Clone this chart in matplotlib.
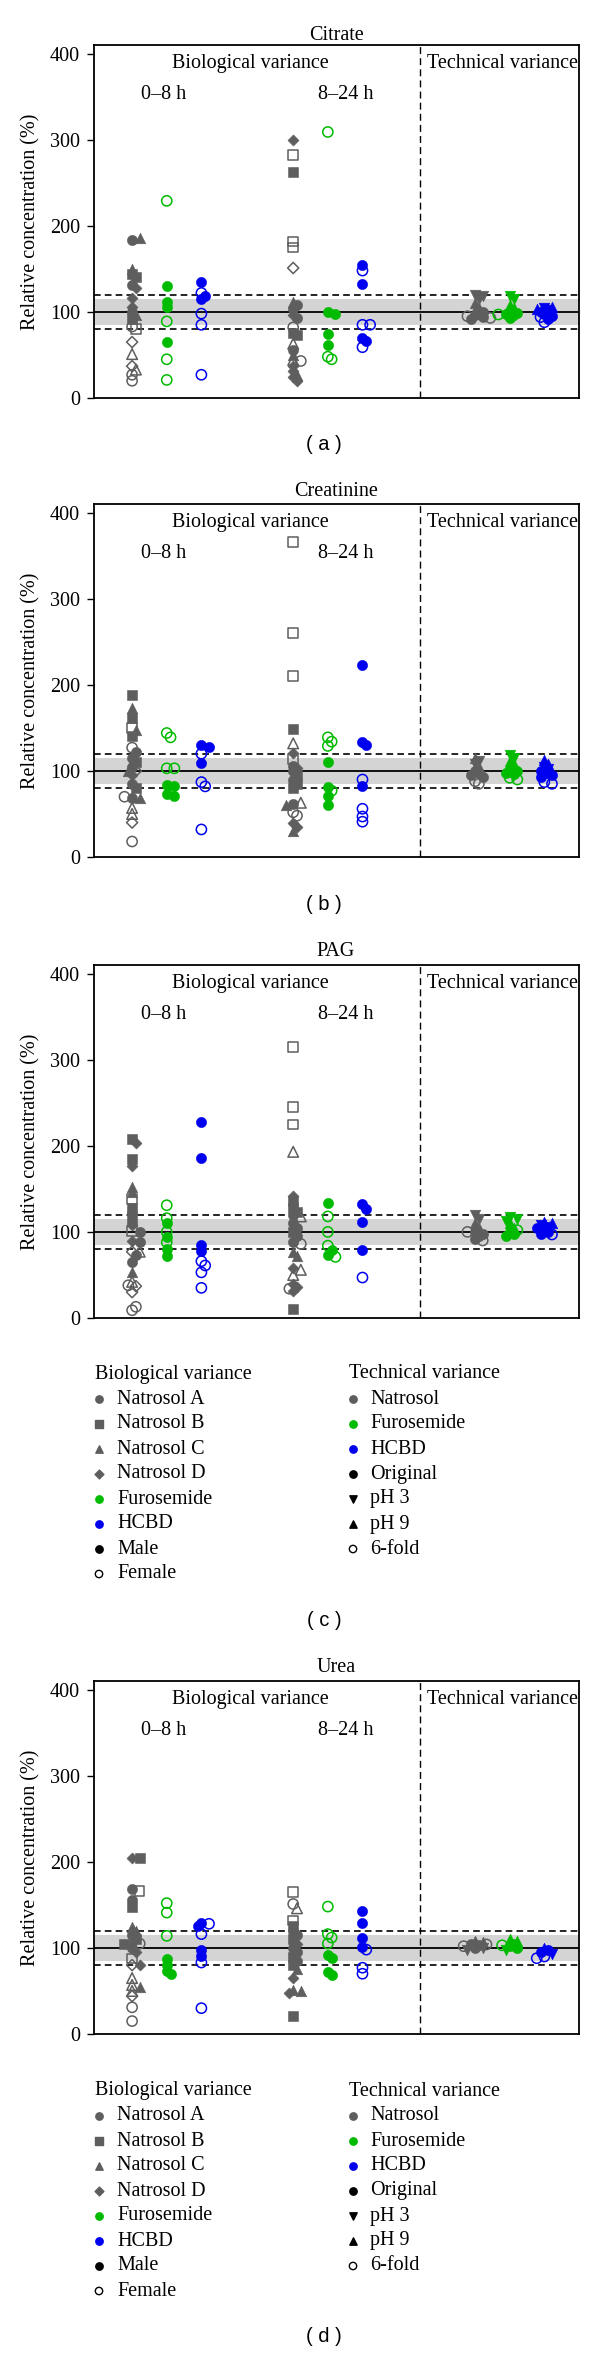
import numpy as np
import matplotlib.pyplot as plt

plt.rcParams['font.family'] = ['Liberation Serif', 'DejaVu Serif']

GRAY = '#5e5e5e'
GREEN = '#00bb00'
BLUE = '#0000f0'
BAND = '#d4d4d4'

# kind codes: A-D Natrosol A-D male (filled), a-d female (open),
# M male / F female for the drug groups,
# O original, 3 pH 3, 9 pH 9, 6 6-fold for technical variance

# ---- Citrate ----
cit_08_nat = [184, 186, 150, 144, 140, 131, 128, 116, 106, 100, 96, 92, 83, 80, 65, 51, 37, 33, 27, 20]
cit_08_nat_kind = "ACCBBADDDACBabdcdcaa"
cit_08_fur = [229, 130, 112, 106, 89, 65, 45, 21]
cit_08_fur_kind = "FMMMFMFF"
cit_08_hcbd = [135, 122, 118, 115, 98, 85, 27]
cit_08_hcbd_kind = "MFMMFFF"
cit_24_nat = [300, 282, 262, 182, 175, 151, 112, 108, 103, 96, 93, 82, 76, 73, 63, 56, 50, 44, 43, 37, 31, 27, 24, 20]
cit_24_nat_kind = "DbBbbdCAADAaBBcACcaDDCDD"
cit_24_fur = [309, 100, 98, 74, 62, 48, 45]
cit_24_fur_kind = "FMMMMFF"
cit_24_hcbd = [155, 148, 132, 85, 85, 70, 66, 59]
cit_24_hcbd_kind = "MFMFFMMF"
cit_t_nat = [120, 118, 115, 110, 105, 102, 100, 96, 94, 92, 95, 93]
cit_t_nat_kind = "333999OOOO66"
cit_t_fur = [118, 115, 108, 105, 100, 99, 97, 93, 97, 96]
cit_t_fur_kind = "3399OOOO66"
cit_t_hcbd = [105, 102, 106, 103, 100, 97, 95, 92, 94, 88]
cit_t_hcbd_kind = "3399OOOO66"

# ---- Creatinine ----
cre_08_nat = [188, 173, 162, 150, 147, 140, 127, 122, 115, 110, 105, 100, 100, 95, 85, 80, 68, 68, 70, 57, 50, 40, 18]
cre_08_nat_kind = "BCBbCBaAABAdCDABACaccda"
cre_08_fur = [144, 139, 103, 103, 84, 83, 73, 71]
cre_08_fur_kind = "FFFFMMMM"
cre_08_hcbd = [130, 128, 120, 109, 87, 82, 32]
cre_08_hcbd_kind = "MMFMFFF"
cre_24_nat = [366, 260, 210, 149, 132, 121, 114, 106, 103, 100, 95, 90, 85, 80, 62, 63, 60, 52, 48, 40, 35, 30]
cre_24_nat_kind = "bbbBcDbADABABBAcCaaDDC"
cre_24_fur = [139, 134, 129, 110, 81, 77, 71, 60]
cre_24_fur_kind = "FFFMMFMM"
cre_24_hcbd = [223, 134, 130, 90, 82, 56, 47, 41]
cre_24_hcbd_kind = "MMMFMFFF"
cre_t_nat = [115, 112, 108, 105, 100, 97, 95, 93, 88, 85]
cre_t_nat_kind = "9339OOOO66"
cre_t_fur = [118, 115, 112, 108, 102, 100, 98, 96, 92, 90]
cre_t_fur_kind = "3399OOOO66"
cre_t_hcbd = [113, 108, 105, 102, 100, 97, 95, 93, 87, 85]
cre_t_hcbd_kind = "9933OOOO66"

# ---- PAG ----
pag_08_nat = [208, 203, 185, 177, 152, 146, 138, 128, 122, 115, 108, 101, 100, 90, 88, 77, 77, 73, 65, 53, 42, 37, 38, 30, 9, 13]
pag_08_nat_kind = "BDBDCCbBABDbADAdcAACcdadaa"
pag_08_fur = [131, 116, 110, 100, 94, 88, 80, 72]
pag_08_fur_kind = "FFMFMFMM"
pag_08_hcbd = [228, 186, 85, 78, 66, 61, 53, 35]
pag_08_hcbd_kind = "MMMMFFFF"
pag_24_nat = [315, 245, 225, 193, 142, 136, 128, 123, 120, 118, 110, 105, 100, 95, 88, 86, 77, 72, 58, 56, 50, 40, 36, 34, 31, 11]
pag_24_nat_kind = "bbbcDBBBAcAABAAaCCDccDDaDB"
pag_24_fur = [133, 118, 100, 84, 79, 73, 71]
pag_24_fur_kind = "MFFFMMF"
pag_24_hcbd = [132, 127, 112, 79, 47]
pag_24_hcbd_kind = "MMMMF"
pag_t_nat = [120, 115, 110, 105, 100, 98, 95, 92, 100, 90]
pag_t_nat_kind = "3399OOOO66"
pag_t_fur = [117, 115, 113, 110, 105, 100, 97, 95, 102]
pag_t_fur_kind = "33399OOO6"
pag_t_hcbd = [112, 110, 108, 106, 105, 103, 100, 98, 97]
pag_t_hcbd_kind = "9933OOOO6"

# ---- Urea ----
urea_08_nat = [204, 204, 168, 166, 156, 148, 124, 120, 115, 110, 106, 105, 104, 100, 95, 88, 80, 80, 65, 57, 55, 50, 44, 31, 15]
urea_08_nat_kind = "DBAbABCCABDaBADbdDccCcdaa"
urea_08_fur = [152, 141, 114, 87, 80, 73, 70]
urea_08_fur_kind = "FFFMMMM"
urea_08_hcbd = [129, 128, 126, 116, 98, 91, 83, 30]
urea_08_hcbd_kind = "MFMFMMFF"
urea_24_nat = [165, 151, 146, 132, 126, 120, 115, 110, 105, 100, 95, 90, 85, 80, 75, 65, 51, 50, 48, 21]
urea_24_nat_kind = "bacbBAABDAABABCDCCDB"
urea_24_fur = [148, 116, 112, 105, 92, 88, 72, 69]
urea_24_fur_kind = "FFFFMMMM"
urea_24_hcbd = [143, 129, 112, 101, 98, 77, 70]
urea_24_hcbd_kind = "MMMMFFF"
urea_t_nat = [108, 107, 105, 103, 100, 100, 98, 102, 104]
urea_t_nat_kind = "99OOO3366"
urea_t_fur = [110, 108, 105, 102, 100, 98, 103]
urea_t_fur_kind = "99OOO36"
urea_t_hcbd = [100, 97, 95, 93, 90, 88]
urea_t_hcbd_kind = "9OO366"

bio_legend = ['Natrosol A', 'Natrosol B', 'Natrosol C', 'Natrosol D', 'Furosemide', 'HCBD', 'Male', 'Female']
tech_legend = ['Natrosol', 'Furosemide', 'HCBD', 'Original', 'pH 3', 'pH 9', '6-fold']

panels = [
    ('Citrate', '( a )', [(cit_08_nat, cit_08_nat_kind), (cit_08_fur, cit_08_fur_kind), (cit_08_hcbd, cit_08_hcbd_kind),
                          (cit_24_nat, cit_24_nat_kind), (cit_24_fur, cit_24_fur_kind), (cit_24_hcbd, cit_24_hcbd_kind),
                          (cit_t_nat, cit_t_nat_kind), (cit_t_fur, cit_t_fur_kind), (cit_t_hcbd, cit_t_hcbd_kind)]),
    ('Creatinine', '( b )', [(cre_08_nat, cre_08_nat_kind), (cre_08_fur, cre_08_fur_kind), (cre_08_hcbd, cre_08_hcbd_kind),
                             (cre_24_nat, cre_24_nat_kind), (cre_24_fur, cre_24_fur_kind), (cre_24_hcbd, cre_24_hcbd_kind),
                             (cre_t_nat, cre_t_nat_kind), (cre_t_fur, cre_t_fur_kind), (cre_t_hcbd, cre_t_hcbd_kind)]),
    ('PAG', '( c )', [(pag_08_nat, pag_08_nat_kind), (pag_08_fur, pag_08_fur_kind), (pag_08_hcbd, pag_08_hcbd_kind),
                      (pag_24_nat, pag_24_nat_kind), (pag_24_fur, pag_24_fur_kind), (pag_24_hcbd, pag_24_hcbd_kind),
                      (pag_t_nat, pag_t_nat_kind), (pag_t_fur, pag_t_fur_kind), (pag_t_hcbd, pag_t_hcbd_kind)]),
    ('Urea', '( d )', [(urea_08_nat, urea_08_nat_kind), (urea_08_fur, urea_08_fur_kind), (urea_08_hcbd, urea_08_hcbd_kind),
                       (urea_24_nat, urea_24_nat_kind), (urea_24_fur, urea_24_fur_kind), (urea_24_hcbd, urea_24_hcbd_kind),
                       (urea_t_nat, urea_t_nat_kind), (urea_t_fur, urea_t_fur_kind), (urea_t_hcbd, urea_t_hcbd_kind)]),
]

centers = [1.1, 2.1, 3.1, 5.75, 6.75, 7.75, 11.0, 12.0, 13.0]
colors = [GRAY, GREEN, BLUE] * 3

shape = {'A': 'o', 'a': 'o', 'B': 's', 'b': 's', 'C': '^', 'c': '^', 'D': 'D', 'd': 'D',
         'M': 'o', 'F': 'o', 'O': 'o', '6': 'o', '3': 'v', '9': '^'}
hollow = set('abcdF6')
size = {'o': 54, 's': 46, '^': 58, 'v': 58, 'D': 32}

XMAX, YMAX = 14.0, 410.0
W_PX, H_PX = 485, 353
px_x = W_PX / XMAX
px_y = H_PX / YMAX


def swarm(vals, step=0.11, gap=4.5):
    # simple beeswarm: move a point sideways only when it sits on another one
    placed = []
    offs = []
    for v in vals:
        for k in (0, 1, -1, 2, -2, 3, -3, 4, -4):
            dx = k * step
            if all(np.hypot((dx - p) * px_x, (v - q) * px_y) >= gap for p, q in placed):
                break
        placed.append((dx, v))
        offs.append(dx)
    return offs


fig = plt.figure(figsize=(6, 23.53), dpi=100)
over = fig.add_axes([0, 0, 1, 1])
over.set_xlim(0, 600)
over.set_ylim(2353, 0)
over.axis('off')

axes_top = [45, 504, 965, 1681]
title_y = [36, 492, 952, 1667]
label_y = [445, 905, 1621, 2337]
legend_top = {2: 1374, 3: 2091}

for n, (title, label, clusters) in enumerate(panels):
    top = axes_top[n]
    ax = fig.add_axes([94 / 600, 1 - (top + H_PX) / 2353, W_PX / 600, H_PX / 2353])
    ax.set_xlim(0, XMAX)
    ax.set_ylim(0, YMAX)

    ax.axhspan(85, 115, color=BAND, lw=0, zorder=0)
    ax.axhline(100, color='k', lw=1.3, zorder=1)
    ax.axhline(80, color='k', lw=1.2, ls=(0, (4, 2.5)), zorder=1)
    ax.axhline(120, color='k', lw=1.2, ls=(0, (4, 2.5)), zorder=1)
    ax.axvline(9.4, color='k', lw=1.0, ls=(0, (5, 3)), zorder=1)

    for (vals, kinds), cx, col in zip(clusters, centers, colors):
        for v, k, dx in zip(vals, kinds, swarm(vals)):
            m = shape[k]
            if k in hollow:
                ax.scatter(cx + dx, v, marker=m, s=size[m], facecolors='none',
                           edgecolors=col, linewidths=1.1, zorder=3)
            else:
                ax.scatter(cx + dx, v, marker=m, s=size[m], facecolors=col,
                           edgecolors=col, linewidths=0.4, zorder=3)

    ax.text(4.5, 388, 'Biological variance', ha='center', va='center', fontsize=14.5)
    ax.text(11.8, 388, 'Technical variance', ha='center', va='center', fontsize=14.5)
    ax.text(2.0, 352, '0–8 h', ha='center', va='center', fontsize=14.5)
    ax.text(7.27, 352, '8–24 h', ha='center', va='center', fontsize=14.5)

    ax.set_xticks([])
    ax.set_yticks([0, 100, 200, 300, 400])
    ax.tick_params(axis='y', length=5, width=1, labelsize=14.5, pad=5)
    for sp in ax.spines.values():
        sp.set_linewidth(1.3)
    ax.set_ylabel('Relative concentration (%)', fontsize=14.5, labelpad=7)

    over.text(336, title_y[n], title, ha='center', va='center', fontsize=14.5)
    over.text(324, label_y[n], label, ha='center', va='center', fontsize=14.5,
              family=['Liberation Sans', 'DejaVu Sans'])

    if n in legend_top:
        y0 = legend_top[n]
        over.text(95, y0, 'Biological variance', va='center', fontsize=14.5)
        over.text(349, y0, 'Technical variance', va='center', fontsize=14.5)
        bio_marks = [('o', GRAY, True), ('s', GRAY, True), ('^', GRAY, True), ('D', GRAY, True),
                     ('o', GREEN, True), ('o', BLUE, True), ('o', 'k', True), ('o', 'k', False)]
        tech_marks = [('o', GRAY, True), ('o', GREEN, True), ('o', BLUE, True), ('o', 'k', True),
                      ('v', 'k', True), ('^', 'k', True), ('o', 'k', False)]
        for i, (name, (m, c, filled)) in enumerate(zip(bio_legend, bio_marks)):
            y = y0 + 25 * (i + 1)
            over.scatter(99, y, marker=m, s=28 if m != 'D' else 20,
                         facecolors=c if filled else 'none', edgecolors=c, linewidths=1.0)
            over.text(117, y, name, va='center', fontsize=14.5)
        for i, (name, (m, c, filled)) in enumerate(zip(tech_legend, tech_marks)):
            y = y0 + 25 * (i + 1)
            over.scatter(353, y, marker=m, s=28,
                         facecolors=c if filled else 'none', edgecolors=c, linewidths=1.0)
            over.text(370, y, name, va='center', fontsize=14.5)

fig.savefig('out.png', dpi=100)
